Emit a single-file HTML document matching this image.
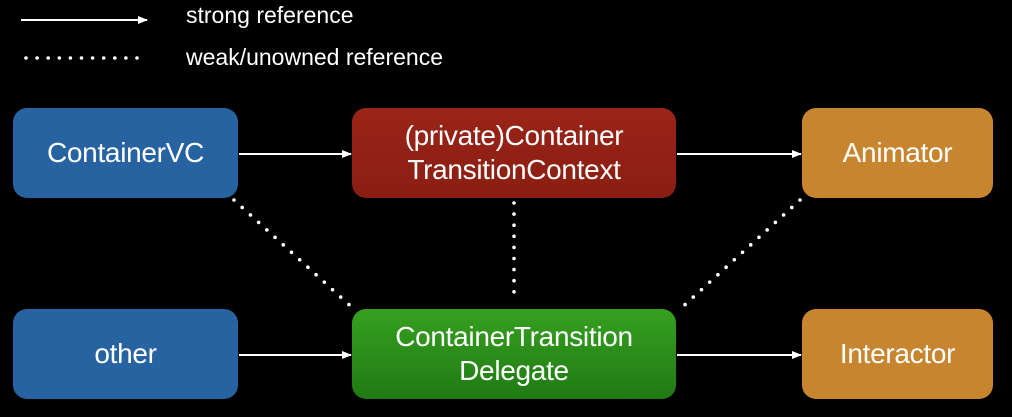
<!DOCTYPE html>
<html><head><style>
html,body{margin:0;padding:0;background:#000;}
body{width:1012px;height:417px;overflow:hidden;position:relative;font-family:"Liberation Sans",sans-serif;}
.b{position:absolute;border-radius:14px;color:#fff;display:flex;align-items:center;justify-content:center;text-align:center;font-size:28px;line-height:34px;letter-spacing:-0.3px;}
.t{position:absolute;color:#fff;font-size:23px;}
</style></head><body>
<svg width="1012" height="417" style="position:absolute;left:0;top:0">
<defs><marker id="a" markerWidth="10" markerHeight="10" refX="9" refY="5" orient="auto" markerUnits="userSpaceOnUse"><path d="M0,1 L10,5 L0,9z" fill="#fff"/></marker></defs>
<g stroke="#fff" stroke-width="2" marker-end="url(#a)">
<line x1="21" y1="20" x2="147" y2="20"/>
<line x1="239" y1="154" x2="351" y2="154"/>
<line x1="677" y1="154" x2="801" y2="154"/>
<line x1="239" y1="355" x2="351" y2="355"/>
<line x1="677" y1="355" x2="801" y2="355"/>
</g>
<g stroke="#fff" stroke-width="3.6" stroke-linecap="round" stroke-dasharray="0 11.1" fill="none">
<line x1="26" y1="58" x2="148" y2="58"/>
<line x1="234" y1="200" x2="356" y2="311"/>
<line x1="514" y1="203" x2="514" y2="302"/>
<line x1="800" y1="200" x2="678" y2="311"/>
</g>
</svg>
<div class="t" style="left:186px;top:2px">strong reference</div>
<div class="t" style="left:186px;top:44px">weak/unowned reference</div>
<div class="b" style="left:13px;top:108px;width:225px;height:90px;background:#2763a0">ContainerVC</div>
<div class="b" style="left:352px;top:108px;width:324px;height:90px;background:linear-gradient(#9a2418,#8a1e12)">(private)Container<br>TransitionContext</div>
<div class="b" style="left:802px;top:108px;width:191px;height:90px;background:#c7852f">Animator</div>
<div class="b" style="left:13px;top:309px;width:225px;height:90px;background:#2763a0">other</div>
<div class="b" style="left:352px;top:309px;width:324px;height:90px;background:linear-gradient(#36a020,#207a14)">ContainerTransition<br>Delegate</div>
<div class="b" style="left:802px;top:309px;width:191px;height:90px;background:#c7852f">Interactor</div>
</body></html>
